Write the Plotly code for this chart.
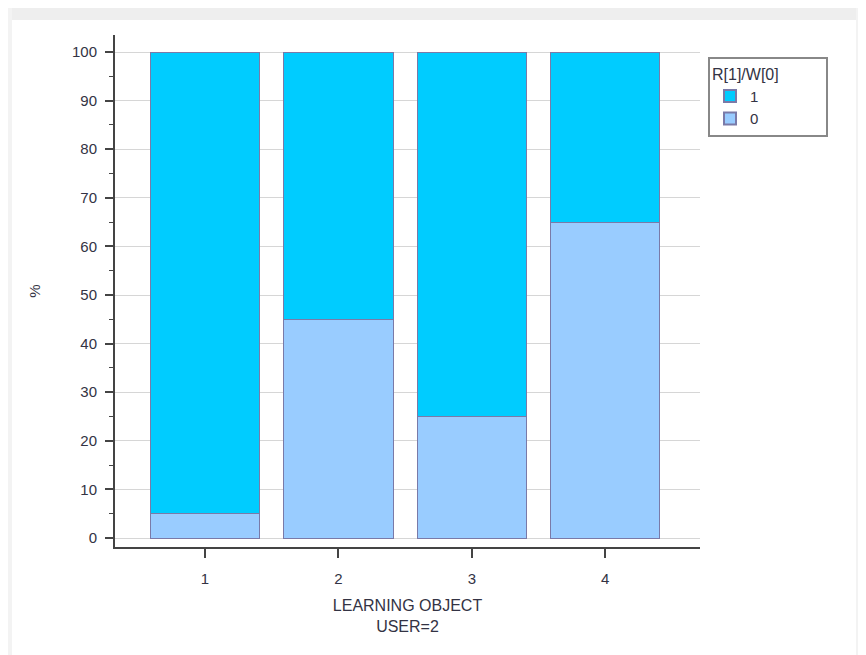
import plotly.graph_objects as go

LEARNING_OBJECTS = [1, 2, 3, 4]
WRONG_0 = [5, 45, 25, 65]
RIGHT_1 = [95, 55, 75, 35]
Y_TICKS = [0, 10, 20, 30, 40, 50, 60, 70, 80, 90, 100]

COLOR_1 = "#00ccff"
COLOR_0 = "#99ccff"
OUTLINE = "#7a7aa8"

# page body adds an 8px offset top/left, so the figure is smaller than the window
OFF = 8
W, H = 866 - OFF, 655 - OFF
L, R, T, B = 115 - OFF, 166, 35 - OFF, 108
PW, PH = W - L - R, H - T - B


def px_x(px):
    return (px - OFF - L) / PW


def px_y(py):
    return (H + OFF - B - py) / PH


fig = go.Figure()
fig.add_trace(
    go.Bar(
        x=LEARNING_OBJECTS,
        y=WRONG_0,
        name="0",
        marker={"color": COLOR_0, "line": {"color": OUTLINE, "width": 1}},
        width=0.82,
    )
)
fig.add_trace(
    go.Bar(
        x=LEARNING_OBJECTS,
        y=RIGHT_1,
        name="1",
        marker={"color": COLOR_1, "line": {"color": OUTLINE, "width": 1}},
        width=0.82,
    )
)

# soft grey frame of the screenshot
fig.add_shape(type="rect", xref="paper", yref="paper", x0=px_x(0), x1=px_x(866),
              y0=px_y(20), y1=px_y(0), fillcolor="#eeeeee", line_width=0, layer="below")
fig.add_shape(type="rect", xref="paper", yref="paper", x0=px_x(0), x1=px_x(12),
              y0=px_y(655), y1=px_y(0), fillcolor="#f3f3f3", line_width=0, layer="below")
fig.add_shape(type="rect", xref="paper", yref="paper", x0=px_x(856), x1=px_x(866),
              y0=px_y(655), y1=px_y(0), fillcolor="#f3f3f3", line_width=0, layer="below")

fig.update_layout(
    width=W,
    height=H,
    barmode="stack",
    paper_bgcolor="white",
    plot_bgcolor="white",
    font={"family": "Liberation Sans, Arial, sans-serif", "size": 15, "color": "#333344"},
    margin={"l": L, "r": R, "t": T, "b": B},
    showlegend=True,
    legend={
        "title": {"text": "R[1]/W[0]" + "\u00a0" * 10, "font": {"size": 16}},
        "traceorder": "reversed",
        "x": px_x(708),
        "y": px_y(57),
        "xanchor": "left",
        "yanchor": "top",
        "bordercolor": "#888888",
        "borderwidth": 2,
        "bgcolor": "white",
        "font": {"size": 15},
        "itemsizing": "constant",
        "tracegroupgap": 0,
    },
    xaxis={
        "range": [0.326, 4.71],
        "tickvals": LEARNING_OBJECTS,
        "ticktext": [str(v) for v in LEARNING_OBJECTS],
        "ticks": "outside",
        "ticklen": 9,
        "tickwidth": 2,
        "tickcolor": "#444444",
        "ticklabelstandoff": 8,
        "showline": True,
        "linecolor": "#444444",
        "linewidth": 2,
        "showgrid": False,
        "zeroline": False,
        "tickfont": {"size": 15},
        "title": {"text": "LEARNING OBJECT<br>USER=2", "font": {"size": 16}, "standoff": 14},
        "fixedrange": True,
    },
    yaxis={
        "range": [-1.85, 103.5],
        "tickvals": Y_TICKS,
        "ticks": "outside",
        "ticklen": 8,
        "tickwidth": 2,
        "tickcolor": "#444444",
        "ticklabelstandoff": 5,
        "minor": {"dtick": 5, "tick0": 0, "ticks": "outside", "ticklen": 4,
                  "tickcolor": "#444444", "tickwidth": 1, "showgrid": False},
        "showline": True,
        "linecolor": "#444444",
        "linewidth": 2,
        "showgrid": True,
        "gridcolor": "#d6d6d6",
        "gridwidth": 1,
        "zeroline": False,
        "tickfont": {"size": 15},
        "title": {"text": "%", "font": {"size": 15}, "standoff": 28},
        "fixedrange": True,
    },
)

fig.write_html("out.html")
